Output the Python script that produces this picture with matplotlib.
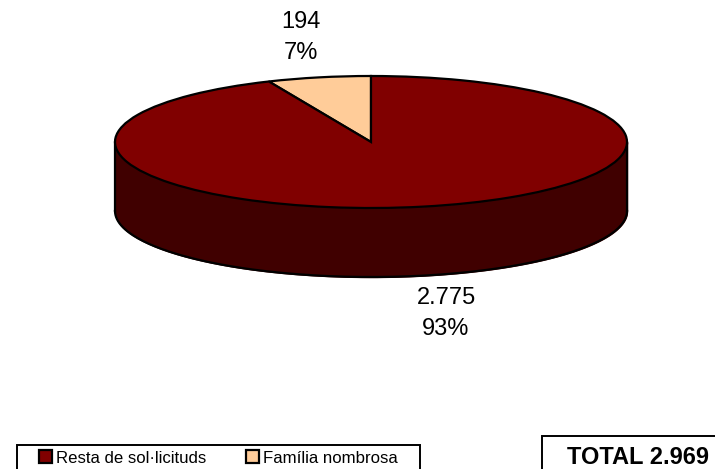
#!/usr/bin/env python3
# -*- coding: utf-8 -*-
import numpy as np
import matplotlib
matplotlib.use('Agg')
import matplotlib.pyplot as plt
from matplotlib.patches import Rectangle

plt.rcParams['font.family'] = ['Liberation Sans', 'DejaVu Sans']

#%% data
categories = ['Família nombrosa', 'Resta de sol·licituds']
values = [194, 2775]
value_labels = ['194', '2.775']
pct_labels = ['7%', '93%']
total_label = 'TOTAL 2.969'
colors = ['#FFCC99', '#800000']
side_color = '#400000'

#%% figure, whole canvas is one axes, unit circle squashed to the ellipse
W, H = 715, 469
cx, cy, rx, ry = 371, 142, 256, 66
depth = 69 / ry

fig = plt.figure(figsize=(W / 100, H / 100), dpi=100)
ax = fig.add_axes([0, 0, 1, 1])

wedges, _ = ax.pie(values, colors=colors, startangle=90, counterclock=True,
                   wedgeprops={'edgecolor': 'k', 'linewidth': 1.6, 'zorder': 3})
ax.set_aspect('auto')
ax.set_xlim(-cx / rx, (W - cx) / rx)
ax.set_ylim((cy - H) / ry, cy / ry)

# side of the 3d disc
t = np.linspace(np.pi, 2 * np.pi, 200)
ax.fill_between(np.cos(t), np.sin(t), np.sin(t) - depth, color=side_color, zorder=1)
ax.plot(np.cos(t), np.sin(t) - depth, color='k', lw=1.6, zorder=2)
ax.plot([-1, -1], [0, -depth], color='k', lw=1.6, zorder=2)
ax.plot([1, 1], [0, -depth], color='k', lw=1.6, zorder=2)


def px(x, y):
    return (x - cx) / rx, (cy - y) / ry


#%% labels
ax.text(*px(301, 22), value_labels[0], ha='center', va='center', fontsize=17, color='k')
ax.text(*px(301, 53), pct_labels[0], ha='center', va='center', fontsize=17, color='k')
ax.text(*px(446, 298), value_labels[1], ha='center', va='center', fontsize=17, color='k')
ax.text(*px(446, 329), pct_labels[1], ha='center', va='center', fontsize=17, color='k')

#%% legend box, runs off the bottom of the picture
x0, y0 = px(17, 445)
x1, y1 = px(420, 480)
ax.add_patch(Rectangle((x0, y1), x1 - x0, y0 - y1, fc='w', ec='k', lw=1.4, zorder=4))

leg = ax.legend(wedges[::-1], categories[::-1], ncol=2, frameon=False, loc='center left',
                bbox_to_anchor=(39 / W, (H - 458) / H), fontsize=12.1, handlelength=0.75,
                handleheight=0.75, columnspacing=2.4, handletextpad=0.25, borderpad=0,
                borderaxespad=0)
leg.set_zorder(5)

#%% total box
x0, y0 = px(542, 436)
x1, y1 = px(730, 480)
ax.add_patch(Rectangle((x0, y1), x1 - x0, y0 - y1, fc='w', ec='k', lw=1.4, zorder=4))
ax.text(*px(638, 457), total_label, ha='center', va='center', fontsize=17, fontweight='bold',
        color='k', zorder=5)

ax.axis('off')
fig.savefig('out.png', dpi=100)
